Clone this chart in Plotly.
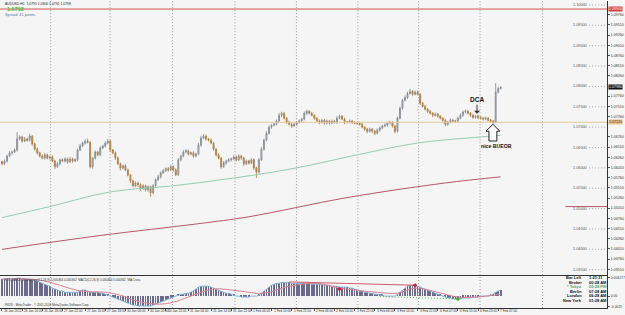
import plotly.graph_objects as go

# ---------------- data ----------------
first_open = 1.0615
closes = [
    1.0610, 1.0617, 1.0629, 1.0637, 1.0639, 1.0644, 1.0671, 1.0676, 1.0666, 1.0671,
    1.0668, 1.0678, 1.0659, 1.0646, 1.0637, 1.0629, 1.0624, 1.0632, 1.0624, 1.0627,
    1.0617, 1.0603, 1.0610, 1.0620, 1.0617, 1.0622, 1.0615, 1.0622, 1.0617, 1.0620,
    1.0644, 1.0654, 1.0661, 1.0666, 1.0663, 1.0603, 1.0624, 1.0639, 1.0632, 1.0649,
    1.0654, 1.0661, 1.0666, 1.0644, 1.0637, 1.0624, 1.0610, 1.0600, 1.0605, 1.0595,
    1.0583, 1.0568, 1.0556, 1.0563, 1.0559, 1.0549, 1.0556, 1.0546, 1.0554, 1.0539,
    1.0556, 1.0571, 1.0578, 1.0588, 1.0593, 1.0598, 1.0595, 1.0603, 1.0595, 1.0583,
    1.0620, 1.0629, 1.0639, 1.0642, 1.0634, 1.0637, 1.0629, 1.0634, 1.0656, 1.0673,
    1.0678, 1.0671, 1.0668, 1.0661, 1.0646, 1.0632, 1.0624, 1.0603, 1.0612, 1.0617,
    1.0620, 1.0622, 1.0627, 1.0620, 1.0629, 1.0624, 1.0610, 1.0617, 1.0612, 1.0620,
    1.0600, 1.0590, 1.0620, 1.0646, 1.0668, 1.0685, 1.0700, 1.0705, 1.0707, 1.0715,
    1.0729, 1.0734, 1.0722, 1.0712, 1.0707, 1.0703, 1.0707, 1.0712, 1.0715, 1.0720,
    1.0734, 1.0739, 1.0734, 1.0729, 1.0722, 1.0715, 1.0712, 1.0717, 1.0710, 1.0715,
    1.0710, 1.0715, 1.0712, 1.0722, 1.0727, 1.0720, 1.0712, 1.0712, 1.0715, 1.0712,
    1.0710, 1.0710, 1.0707, 1.0700, 1.0695, 1.0690, 1.0695, 1.0690, 1.0685, 1.0693,
    1.0698, 1.0703, 1.0705, 1.0710, 1.0712, 1.0703, 1.0690, 1.0722, 1.0746, 1.0766,
    1.0773, 1.0783, 1.0788, 1.0781, 1.0786, 1.0781, 1.0759, 1.0751, 1.0744, 1.0739,
    1.0734, 1.0729, 1.0732, 1.0727, 1.0722, 1.0717, 1.0707, 1.0712, 1.0717, 1.0715,
    1.0715, 1.0722, 1.0729, 1.0737, 1.0739, 1.0734, 1.0729, 1.0724, 1.0727, 1.0724,
    1.0722, 1.0720, 1.0722, 1.0717, 1.0715, 1.0712, 1.0786, 1.0795, 1.0798,
]
upper_wick_pips = [
    3, 4, 3, 5, 3, 4, 17, 4, 3, 5,
    3, 6, 2, 3, 4, 3, 4, 5, 3, 3,
    4, 3, 5, 3, 3, 4, 3, 5, 3, 4,
    3, 5, 3, 4, 6, 2, 3, 4, 3, 4,
    3, 4, 5, 3, 2, 3, 4, 3, 3, 4,
    3, 2, 3, 4, 3, 3, 4, 3, 3, 2,
    4, 3, 5, 3, 4, 3, 4, 5, 3, 4,
    4, 3, 5, 4, 3, 3, 4, 3, 5, 6,
    5, 4, 3, 4, 3, 3, 4, 3, 5, 3,
    4, 3, 4, 3, 5, 3, 3, 4, 3, 4,
    3, 3, 4, 5, 4, 5, 4, 3, 5, 4,
    6, 4, 3, 3, 4, 3, 4, 3, 4, 3,
    5, 4, 3, 4, 3, 3, 4, 3, 3, 4,
    3, 4, 3, 5, 4, 3, 3, 3, 4, 3,
    3, 3, 3, 4, 3, 3, 4, 3, 3, 4,
    3, 3, 4, 3, 4, 3, 3, 4, 5, 4,
    5, 4, 6, 3, 4, 4, 3, 3, 4, 3,
    3, 3, 4, 3, 3, 3, 4, 3, 4, 3,
    3, 4, 5, 4, 5, 3, 3, 4, 3, 4,
    3, 3, 4, 3, 3, 3, 22, 4, 2,
]
lower_wick_pips = [
    4, 3, 4, 3, 5, 3, 4, 3, 4, 3,
    4, 3, 5, 3, 4, 3, 3, 4, 3, 5,
    3, 6, 3, 4, 3, 4, 5, 3, 4, 3,
    4, 3, 3, 4, 3, 4, 5, 3, 4, 3,
    3, 4, 3, 5, 3, 4, 3, 6, 4, 3,
    4, 5, 4, 3, 6, 5, 3, 4, 5, 10,
    4, 3, 3, 4, 3, 3, 4, 3, 4, 3,
    3, 4, 3, 3, 4, 3, 4, 3, 3, 4,
    3, 4, 3, 3, 4, 4, 3, 5, 3, 4,
    3, 4, 3, 4, 3, 4, 5, 3, 4, 3,
    5, 15, 4, 3, 4, 3, 3, 4, 3, 3,
    3, 4, 3, 4, 3, 5, 3, 4, 3, 3,
    3, 4, 3, 3, 4, 3, 5, 3, 4, 3,
    4, 3, 3, 4, 3, 3, 4, 3, 3, 4,
    3, 4, 3, 3, 4, 5, 3, 4, 5, 3,
    4, 3, 3, 4, 3, 4, 5, 3, 3, 3,
    3, 4, 3, 4, 3, 3, 4, 3, 3, 4,
    3, 4, 3, 4, 3, 4, 5, 4, 3, 3,
    4, 3, 3, 4, 3, 3, 4, 3, 3, 4,
    3, 4, 3, 3, 4, 5, 3, 3, 3,
]

# moving averages (sparse points along the smooth curves)
ma_green_bars = [0, 19, 43, 68, 93, 117, 141, 165, 190, 198]
ma_green = [1.0478, 1.0505, 1.0541, 1.0556, 1.0576, 1.0600, 1.0632, 1.0661, 1.0676, 1.0680]
ma_red_bars = [0, 39, 78, 98, 137, 176, 198]
ma_red = [1.0400, 1.0434, 1.0463, 1.0480, 1.0527, 1.0563, 1.0578]

level_orange = 1.0712
level_red = 1.0990
round_levels = [1.100, 1.095, 1.090, 1.085, 1.080, 1.075, 1.070, 1.065,
                1.060, 1.055, 1.050, 1.045, 1.040, 1.035]

# MACD histogram (one value per bar)
macd_hist = [
    0.0036, 0.0036, 0.0036, 0.0036, 0.0036, 0.0036, 0.0038, 0.0038, 0.0036, 0.0036, 0.0036, 0.0036, 0.0034, 0.0034,
    0.0032, 0.0029, 0.0027, 0.0025,
    0.0023, 0.0021, 0.0017, 0.0015,
    0.0013, 0.0011, 0.0011, 0.0008, 0.0008, 0.0008, 0.0008, 0.0008,
    0.0008, 0.0011, 0.0013, 0.0013,
    0.0011, 0.0008, 0.0008, 0.0008, 0.0008, 0.0006, 0.0006, 0.0004, 0.0002,
    0.0, -0.0002, -0.0004, -0.0006,
    -0.0008, -0.0011, -0.0013, -0.0015,
    -0.0017, -0.0019, -0.0019, -0.0021,
    -0.0021, -0.0021, -0.0021, -0.0021, -0.0021, -0.0019,
    -0.0017, -0.0015, -0.0013, -0.0011,
    -0.0008, -0.0006, -0.0004, -0.0002,
    0.0, 0.0002, 0.0004, 0.0004,
    0.0006, 0.0006, 0.0008, 0.0011,
    0.0015, 0.0019, 0.0021, 0.0021, 0.0021, 0.0021,
    0.0019, 0.0017, 0.0015, 0.0013,
    0.0011, 0.0008, 0.0006, 0.0006, 0.0004,
    0.0002, 0.0, 0.0, -0.0002, -0.0002, -0.0002, -0.0002, 0.0,
    0.0, 0.0, 0.0002, 0.0006, 0.0011,
    0.0015, 0.0019, 0.0023, 0.0025, 0.0027,
    0.0027, 0.0029, 0.0029, 0.0029, 0.0029, 0.0027, 0.0027, 0.0027, 0.0027, 0.0027,
    0.0027, 0.0027, 0.0027, 0.0025, 0.0025, 0.0025, 0.0025, 0.0025, 0.0023, 0.0023,
    0.0023, 0.0021, 0.0021, 0.0021, 0.0019, 0.0019, 0.0019, 0.0019,
    0.0017, 0.0017, 0.0015, 0.0013, 0.0011, 0.0011, 0.0008, 0.0008,
    0.0006, 0.0006, 0.0004, 0.0004, 0.0002, 0.0002, 0.0, 0.0, 0.0, 0.0,
    0.0, 0.0004, 0.0008, 0.0013, 0.0017, 0.0021, 0.0023,
    0.0023, 0.0023, 0.0021, 0.0019,
    0.0017, 0.0015, 0.0013, 0.0011, 0.0008, 0.0006,
    0.0004, 0.0002, 0.0, -0.0002,
    -0.0004, -0.0004, -0.0006, -0.0006, -0.0006, -0.0006, -0.0004, -0.0004, -0.0004, -0.0004,
    -0.0002, -0.0002, -0.0002, 0.0, 0.0, 0.0, 0.0,
    0.0002, 0.0004, 0.0008, 0.0011, 0.0013,
]
signal_bars = [0, 15, 31, 41, 47, 54, 62, 68, 74, 84, 94, 104, 114, 125, 134, 149, 157, 164, 173, 181, 188, 198]
signal_vals = [0.0036, 0.0034, 0.0011, 0.0008, 0.0002, -0.0011, -0.0017, -0.0013, -0.0002, 0.0015, 0.0011,
               0.0006, 0.0021, 0.0027, 0.0017, 0.0008, 0.0006, 0.0017, 0.0008, -0.0002, -0.0002, 0.0004]
div_red_bars = [114, 164]
div_red_vals = [0.0030, 0.0023]
div_red_dot_bars = [134, 164]
div_red_dot_vals = [0.0015, 0.0023]
div_green_bars = [150, 181]
div_green_vals = [-0.0001, -0.0006]

date_label_bars = [0, 8, 16, 24, 33, 41, 49, 58, 65, 74, 83, 91, 99, 107, 115, 124, 132, 140,
                   148, 156, 165, 173, 181, 189, 197]
date_labels = ["26 Jan 2012", "26 Jan 10:00", "26 Jan 18:00", "27 Jan 02:00", "27 Jan 10:00",
               "27 Jan 18:00", "30 Jan 06:00", "30 Jan 14:00", "30 Jan 22:00", "31 Jan 06:00",
               "31 Jan 14:00", "31 Jan 22:00", "1 Feb 06:00", "1 Feb 14:00", "1 Feb 22:00",
               "2 Feb 06:00", "2 Feb 14:00", "2 Feb 22:00", "3 Feb 06:00", "3 Feb 14:00",
               "3 Feb 22:00", "6 Feb 07:00", "6 Feb 15:00", "6 Feb 23:00", "7 Feb 07:00"]
day_grid_bars = [19.3, 42.9, 67.7, 92.5, 116.9, 141.3, 165.4, 189.8, 214.6]

info_labels = ["Bar Left", "Broker", "* Tokyo", "Berlin", "London", "New York"]
info_values = ["1:21:11", "00:28 AM", "02:28 PM", "07:28 AM", "06:28 AM", "01:28 AM"]

# ---------------- derived ----------------
bars = list(range(len(closes)))
opens = [first_open] + closes[:-1]
highs = [max(o, c) + u / 10000 for o, c, u in zip(opens, closes, upper_wick_pips)]
lows = [min(o, c) - l / 10000 for o, c, l in zip(opens, closes, lower_wick_pips)]

W, H = 625, 315
PLOT_W = 612
MAIN_BOT_PX, IND_TOP_PX, IND_BOT_PX = 276, 277, 309
main_dom = [1 - MAIN_BOT_PX / H, 1.0]
ind_dom = [(H - IND_BOT_PX) / H, (H - IND_TOP_PX) / H]
def py(px):  # pixel row -> paper y
    return (H - px) / H
def pxx(px):  # pixel column -> paper x
    return px / PLOT_W

XR = [-0.79, 240.2]
FONT = "Liberation Sans"
GRID_DASH = "1px,2px"

fig = go.Figure()
fig.add_trace(go.Candlestick(
    x=bars, open=opens, high=highs, low=lows, close=closes,
    increasing=dict(line=dict(color="#80868d", width=0.8), fillcolor="#b3b8be"),
    decreasing=dict(line=dict(color="#a8773a", width=0.8), fillcolor="#d19a55"),
    whiskerwidth=0, showlegend=False, hoverinfo="skip"))
fig.add_trace(go.Scatter(x=ma_green_bars, y=ma_green, mode="lines",
                         line=dict(color="#93cdb0", width=1, shape="spline"), showlegend=False))
fig.add_trace(go.Scatter(x=ma_red_bars, y=ma_red, mode="lines",
                         line=dict(color="#b5566a", width=1, shape="spline"), showlegend=False))

# indicator panel
fig.add_trace(go.Bar(x=bars, y=macd_hist, width=0.28, marker=dict(color="#6a6a8c", line=dict(width=0)),
                     xaxis="x2", yaxis="y2", showlegend=False))
fig.add_trace(go.Scatter(x=bars, y=macd_hist, mode="lines", line=dict(color="#86b8e4", width=1),
                         xaxis="x2", yaxis="y2", showlegend=False))
fig.add_trace(go.Scatter(x=signal_bars, y=signal_vals, mode="lines",
                         line=dict(color="#dc8090", width=1, shape="spline"),
                         xaxis="x2", yaxis="y2", showlegend=False))
fig.add_trace(go.Scatter(x=div_red_bars, y=div_red_vals, mode="lines", line=dict(color="#d05a6a", width=1),
                         xaxis="x2", yaxis="y2", showlegend=False))
fig.add_trace(go.Scatter(x=div_green_bars, y=div_green_vals, mode="lines",
                         line=dict(color="#4caf50", width=1, dash="1px,2px"),
                         xaxis="x2", yaxis="y2", showlegend=False))
fig.add_trace(go.Scatter(x=div_red_dot_bars, y=div_red_dot_vals, mode="markers",
                         marker=dict(color="#cc2233", size=3.5), xaxis="x2", yaxis="y2", showlegend=False))
fig.add_trace(go.Scatter(x=[div_green_bars[-1]], y=[div_green_vals[-1]], mode="markers",
                         marker=dict(color="#33aa33", size=3.5), xaxis="x2", yaxis="y2", showlegend=False))

shapes = []
# horizontal level lines
shapes.append(dict(type="line", xref="paper", x0=0, x1=1, yref="y", y0=level_orange, y1=level_orange,
                   line=dict(color="#e6c79c", width=1)))
shapes.append(dict(type="line", xref="paper", x0=0, x1=1, yref="y", y0=level_red, y1=level_red,
                   line=dict(color="#d05050", width=1)))
# daily grid
for g in day_grid_bars:
    shapes.append(dict(type="line", xref="x", x0=g, x1=g, yref="paper", y0=main_dom[0], y1=1,
                       line=dict(color="#9a9a9a", width=1, dash=GRID_DASH), layer="below"))
    shapes.append(dict(type="line", xref="x", x0=g, x1=g, yref="paper", y0=ind_dom[0], y1=ind_dom[1],
                       line=dict(color="#9a9a9a", width=1, dash=GRID_DASH), layer="below"))
# round-number level markers at the right
for lv in round_levels:
    shapes.append(dict(type="line", xref="paper", x0=pxx(594), x1=1, yref="y", y0=lv, y1=lv,
                       line=dict(color="#a8a8a8", width=1, dash=GRID_DASH)))
shapes.append(dict(type="line", xref="paper", x0=pxx(570), x1=1, yref="y", y0=1.0505, y1=1.0505,
                   line=dict(color="#b5566a", width=1)))

# hollow up-arrow under the breakout candle
tip_bar, tip_price = 194.9, 1.0707
head_dy, tail_dy = 0.0017, 0.0041
head_hw, stem_hw = 2.76, 1.57
path = (f"M {tip_bar},{tip_price} L {tip_bar + head_hw},{tip_price - head_dy} "
        f"L {tip_bar + stem_hw},{tip_price - head_dy} L {tip_bar + stem_hw},{tip_price - tail_dy} "
        f"L {tip_bar - stem_hw},{tip_price - tail_dy} L {tip_bar - stem_hw},{tip_price - head_dy} "
        f"L {tip_bar - head_hw},{tip_price - head_dy} Z")
shapes.append(dict(type="path", xref="x", yref="y", path=path, fillcolor="white",
                   line=dict(color="#222222", width=1)))

ann = []
# date labels
for b, t in zip(date_label_bars, date_labels):
    ann.append(dict(x=b, xref="x2", y=py(312), yref="paper", text=t, showarrow=False,
                    xanchor="left", yanchor="middle", font=dict(size=3.2, color="#333", family=FONT)))
# round-number labels
for lv in round_levels:
    ann.append(dict(x=pxx(585), xref="paper", y=lv, yref="y", text=f"{lv:.5f}", showarrow=False,
                    xanchor="center", yanchor="middle", font=dict(size=3.8, color="#555", family=FONT)))
# right-axis price boxes
boxes = [(level_red, "#d04040", "white"), (closes[-1], "#111111", "white"),
         (level_orange, "#e8c08a", "#333")]
for lv, bg, fg in boxes:
    ann.append(dict(x=1, xref="paper", xanchor="left", xshift=1, y=lv, yref="y", yanchor="middle",
                    text=f"{lv:.5f}", showarrow=False, bgcolor=bg, borderpad=0,
                    font=dict(size=3.6, color=fg, family=FONT)))
# header texts
ann.append(dict(x=pxx(3), xref="paper", y=py(3), yref="paper", xanchor="left", yanchor="middle",
                text=f"AUDUSD,H1  {opens[-1]:.4f} {highs[-1]:.4f} {lows[-1]:.4f} {closes[-1]:.4f}",
                showarrow=False, font=dict(size=3.4, color="#222", family=FONT)))
ann.append(dict(x=pxx(5), xref="paper", y=py(8), yref="paper", xanchor="left", yanchor="middle",
                text=f"<b>{closes[-1]:.4f}</b>", showarrow=False,
                font=dict(size=5.5, color="#5cb82e", family=FONT)))
ann.append(dict(x=pxx(3), xref="paper", y=py(14), yref="paper", xanchor="left", yanchor="middle",
                text="Spread: 41 points.", showarrow=False, font=dict(size=3.8, color="#4a78a8", family=FONT)))
# trade annotations
ann.append(dict(x=188.6, xref="x", y=1.0733, yref="y", text="<b>DCA</b>", showarrow=True,
                arrowhead=1, arrowsize=1, arrowwidth=1, arrowcolor="#333", ax=0, ay=-14,
                font=dict(size=6.5, color="#111", family=FONT)))
ann.append(dict(x=196.5, xref="x", y=1.0655, yref="y", text="<b>nice BUEOB</b>", showarrow=False,
                xanchor="center", yanchor="middle", font=dict(size=5.2, color="#111", family=FONT)))
# indicator texts
ann.append(dict(x=pxx(3), xref="paper", y=py(280.5), yref="paper", xanchor="left", yanchor="middle",
                text="FX5_MACD_Divergence(12,26,9) 0.000464 0.000362  MACD(12,26,9) 0.000464 0.000362  MA Cross",
                showarrow=False, font=dict(size=3.0, color="#333", family=FONT)))
ann.append(dict(x=pxx(3), xref="paper", y=py(306), yref="paper", xanchor="left", yanchor="middle",
                text="FXDD - MetaTrader - \u00a9 2001-2010 MetaQuotes Software Corp.",
                showarrow=False, font=dict(size=3.0, color="#333", family=FONT)))
for k, (lab, val) in enumerate(zip(info_labels, info_values)):
    col = "#4fa070" if "Tokyo" in lab else "#111"
    yy = py(278.5 + 4.5 * k)
    ann.append(dict(x=pxx(589), xref="paper", y=yy, yref="paper", xanchor="right", yanchor="middle",
                    text=f"<b>{lab}</b>", showarrow=False, font=dict(size=4.0, color=col, family=FONT)))
    ann.append(dict(x=pxx(592), xref="paper", y=yy, yref="paper", xanchor="left", yanchor="middle",
                    text=f"<b>{val}</b>", showarrow=False, font=dict(size=4.0, color=col, family=FONT)))

# right price-axis ticks, skipping those hidden behind the price boxes
y_lo, y_hi = 1.03364, 1.10098
tick_step = 0.0025
price_ticks = []
t = 1.0976 + 2 * tick_step
while t > y_lo:
    if t < y_hi and all(abs(t - b[0]) > 0.0013 for b in boxes):
        price_ticks.append(round(t, 5))
    t -= tick_step

fig.update_layout(
    width=W, height=H, margin=dict(l=0, r=W - PLOT_W, t=0, b=0),
    paper_bgcolor="#f6f6f6", plot_bgcolor="#f5f5f5",
    showlegend=False, bargap=0, boxgap=0.45, hovermode=False,
    xaxis=dict(domain=[0, 1], range=XR, anchor="y", showgrid=False, zeroline=False,
               showticklabels=False, ticks="", showline=True, linecolor="#333", linewidth=1,
               rangeslider=dict(visible=False), fixedrange=True),
    yaxis=dict(domain=main_dom, range=[y_lo, y_hi], side="right", anchor="x",
               showgrid=False, zeroline=False, showline=True, linecolor="#333", linewidth=1,
               tickvals=price_ticks, tickformat=".5f", ticks="outside", ticklen=2,
               tickcolor="#555", tickfont=dict(size=3.6, color="#333", family=FONT)),
    xaxis2=dict(domain=[0, 1], range=XR, anchor="y2", showgrid=False, zeroline=False,
                showticklabels=False, tickvals=date_label_bars, ticks="outside", ticklen=2,
                tickcolor="#555", showline=True, mirror=True, linecolor="#333", linewidth=1),
    yaxis2=dict(domain=ind_dom, range=[-0.00252, 0.0042], side="right", anchor="x2",
                showgrid=False, zeroline=False, showline=True, linecolor="#333", linewidth=1,
                tickvals=[0.00395, 0.0, -0.0022], ticktext=["0.004277", "0.00", "-0.0025"],
                ticks="outside", ticklen=2, tickcolor="#555",
                tickfont=dict(size=3.4, color="#333", family=FONT)),
    shapes=shapes, annotations=ann,
)

fig.write_html("out.html")
